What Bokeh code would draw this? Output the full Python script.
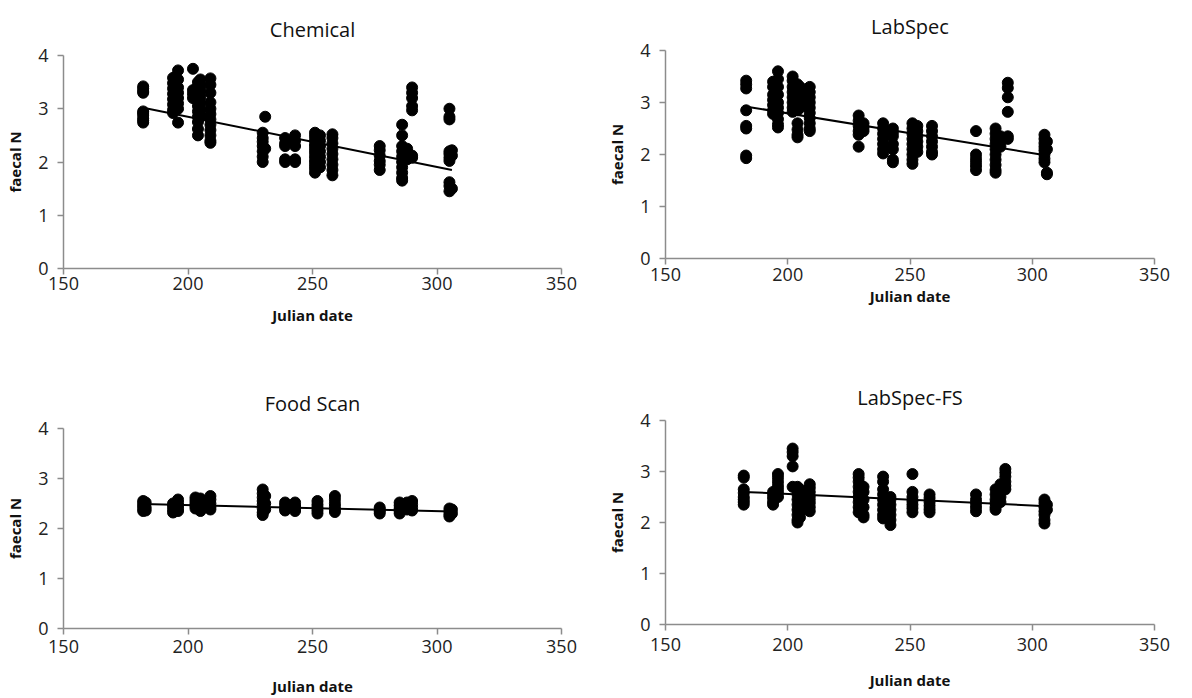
from bokeh.plotting import figure
from bokeh.layouts import column, row
from bokeh.models import Range1d, FixedTicker, ColumnDataSource
from bokeh.embed import file_html
from bokeh.resources import INLINE

# ---------------- data ----------------
x_ticks = [150, 200, 250, 300, 350]
y_ticks = [0, 1, 2, 3, 4]
x_label = "Julian date"
y_label = "faecal N"
titles = ["Chemical", "LabSpec", "Food Scan", "LabSpec-FS"]

trend_days = [182, 306]

chem_days = [182, 194, 196, 202, 204, 205, 209, 230, 231, 239, 243, 251, 253, 258, 277, 286, 288, 290, 305, 306]
chem_vals = [
    [3.42, 3.38, 3.33, 3.30, 2.95, 2.92, 2.88, 2.82, 2.78, 2.74],
    [3.58, 3.48, 3.38, 3.28, 3.18, 3.08, 2.98, 2.92],
    [3.72, 3.55, 3.40, 3.30, 3.20, 3.10, 3.00, 2.74],
    [3.75, 3.35, 3.28, 3.20],
    [3.50, 3.42, 3.30, 3.18, 3.05, 2.95, 2.85, 2.75, 2.62, 2.50],
    [3.55, 3.45, 3.35, 3.22, 3.10, 2.98, 2.85],
    [3.57, 3.45, 3.30, 3.12, 3.00, 2.90, 2.80, 2.70, 2.60, 2.50, 2.40, 2.36],
    [2.55, 2.45, 2.38, 2.30, 2.20, 2.10, 2.00],
    [2.85, 2.25],
    [2.45, 2.35, 2.30, 2.05, 2.00],
    [2.50, 2.40, 2.30, 2.05, 2.00],
    [2.55, 2.48, 2.40, 2.32, 2.25, 2.18, 2.10, 2.02, 1.95, 1.88, 1.80],
    [2.50, 2.40, 2.30, 2.20, 2.10, 2.00, 1.90],
    [2.52, 2.45, 2.35, 2.25, 2.15, 2.05, 1.95, 1.85, 1.75],
    [2.30, 2.22, 2.12, 2.02, 1.95, 1.85],
    [2.70, 2.50, 2.30, 2.20, 2.10, 2.00, 1.90, 1.80, 1.70, 1.65],
    [2.25, 2.15, 2.05],
    [3.40, 3.30, 3.20, 3.05, 2.97, 2.12, 2.08],
    [3.00, 2.85, 2.80, 2.20, 2.15, 2.08, 2.02, 1.62, 1.55, 1.45],
    [2.22, 2.12, 1.50],
]
chem_trend = [3.02, 1.85]

labspec_days = [183, 194, 196, 202, 204, 205, 209, 229, 231, 239, 243, 251, 253, 259, 277, 285, 287, 290, 305, 306]
labspec_vals = [
    [3.42, 3.35, 3.27, 2.85, 2.55, 2.50, 1.98, 1.93],
    [3.40, 3.30, 3.15, 3.05, 2.95, 2.85, 2.78],
    [3.60, 3.45, 3.30, 3.15, 3.00, 2.90, 2.80, 2.68, 2.58, 2.52],
    [3.50, 3.42, 3.30, 3.20, 3.10, 3.00, 2.90, 2.82],
    [3.35, 3.25, 3.15, 3.05, 2.95, 2.85, 2.60, 2.48, 2.38, 2.33],
    [3.30, 3.20, 3.10, 3.00, 2.90],
    [3.30, 3.20, 3.10, 3.00, 2.90, 2.80, 2.70, 2.60, 2.50, 2.45],
    [2.75, 2.65, 2.55, 2.45, 2.38, 2.15],
    [2.60, 2.52, 2.45],
    [2.60, 2.50, 2.40, 2.30, 2.20, 2.10, 2.02],
    [2.50, 2.42, 2.35, 2.20, 2.10, 1.90, 1.85],
    [2.60, 2.50, 2.40, 2.30, 2.20, 2.10, 2.00, 1.90, 1.82],
    [2.55, 2.45, 2.35, 2.25, 2.15, 2.05],
    [2.55, 2.45, 2.35, 2.25, 2.15, 2.05, 2.00],
    [2.45, 2.00, 1.92, 1.85, 1.78, 1.70],
    [2.50, 2.40, 2.30, 2.20, 2.10, 2.00, 1.90, 1.80, 1.70, 1.65],
    [2.35, 2.25, 2.15],
    [3.38, 3.28, 3.10, 2.82, 2.35, 2.30],
    [2.38, 2.30, 2.22, 2.15, 2.08, 2.00, 1.92, 1.85],
    [2.25, 2.10, 1.65, 1.62],
]
labspec_trend = [2.93, 1.98]

food_days = [182, 183, 194, 196, 203, 205, 209, 230, 231, 239, 243, 252, 259, 277, 285, 288, 290, 305, 306]
food_vals = [
    [2.55, 2.50, 2.45, 2.40, 2.35],
    [2.52, 2.42, 2.36],
    [2.50, 2.45, 2.38, 2.32],
    [2.58, 2.52, 2.46, 2.40, 2.35],
    [2.62, 2.56, 2.50, 2.45, 2.40],
    [2.60, 2.52, 2.45, 2.38, 2.35],
    [2.65, 2.58, 2.50, 2.43, 2.38],
    [2.78, 2.70, 2.62, 2.55, 2.48, 2.40, 2.32, 2.27],
    [2.65, 2.50, 2.38],
    [2.52, 2.46, 2.40, 2.36],
    [2.52, 2.45, 2.40, 2.35],
    [2.55, 2.48, 2.42, 2.36, 2.30],
    [2.65, 2.58, 2.50, 2.44, 2.38, 2.33],
    [2.42, 2.38, 2.34, 2.30],
    [2.52, 2.46, 2.40, 2.35, 2.30],
    [2.52, 2.45, 2.38],
    [2.55, 2.48, 2.42, 2.36],
    [2.40, 2.34, 2.28, 2.24],
    [2.38, 2.30],
]
food_trend = [2.49, 2.34]

lsfs_days = [182, 194, 196, 202, 204, 205, 209, 229, 231, 239, 242, 251, 258, 277, 285, 287, 289, 305, 306]
lsfs_vals = [
    [2.92, 2.88, 2.65, 2.58, 2.50, 2.45, 2.40, 2.35],
    [2.60, 2.55, 2.48, 2.40, 2.35],
    [2.95, 2.88, 2.80, 2.72, 2.65, 2.58, 2.50],
    [3.45, 3.38, 3.30, 3.10, 2.70],
    [2.70, 2.62, 2.55, 2.45, 2.35, 2.25, 2.15, 2.05, 2.00],
    [2.65, 2.55, 2.40, 2.30, 2.20, 2.10],
    [2.75, 2.68, 2.60, 2.52, 2.45, 2.38, 2.30, 2.22],
    [2.95, 2.88, 2.80, 2.70, 2.60, 2.50, 2.40, 2.30, 2.20],
    [2.70, 2.60, 2.45, 2.30, 2.15, 2.10],
    [2.90, 2.80, 2.65, 2.55, 2.45, 2.35, 2.25, 2.15, 2.08],
    [2.50, 2.45, 2.35, 2.25, 2.15, 2.05, 1.95],
    [2.95, 2.60, 2.50, 2.42, 2.35, 2.28, 2.20],
    [2.55, 2.48, 2.40, 2.33, 2.26, 2.20],
    [2.55, 2.45, 2.38, 2.30, 2.22],
    [2.65, 2.55, 2.45, 2.38, 2.30, 2.25],
    [2.75, 2.60, 2.50, 2.40],
    [3.05, 2.98, 2.90, 2.80, 2.72, 2.65],
    [2.45, 2.38, 2.30, 2.22, 2.15, 2.05, 1.98],
    [2.35, 2.25],
]
lsfs_trend = [2.60, 2.32]

# ---------------- drawing ----------------
FONT = "Open Sans"
AXIS_GREY = "#8c8c8c"


def flatten(days, vals):
    xs, ys = [], []
    for d, vs in zip(days, vals):
        for v in vs:
            xs.append(d)
            ys.append(v)
    return xs, ys


def panel(title, days, vals, trend, borders, title_standoff, x_std):
    left, right, top, bottom = borders
    p = figure(width=596, height=349, output_backend="svg", toolbar_location=None,
               x_range=Range1d(x_ticks[0], x_ticks[-1]), y_range=Range1d(y_ticks[0], y_ticks[-1]),
               min_border_left=left, min_border_right=right,
               min_border_top=top, min_border_bottom=bottom)
    p.outline_line_color = None
    p.xgrid.visible = False
    p.ygrid.visible = False
    p.background_fill_color = "white"
    p.border_fill_color = "white"

    p.title.text = title
    p.title.align = "center"
    p.title.text_font = FONT
    p.title.text_font_size = "20px"
    p.title.text_font_style = "normal"
    p.title.text_color = "#111111"
    p.title.standoff = title_standoff

    xs, ys = flatten(days, vals)
    src = ColumnDataSource(dict(x=xs, y=ys))
    p.scatter("x", "y", source=src, size=11, fill_color="black", line_color="black")
    p.line(trend_days, trend, line_color="black", line_width=2)

    for ax in (p.xaxis[0], p.yaxis[0]):
        ax.axis_line_color = AXIS_GREY
        ax.axis_line_width = 1.5
        ax.major_tick_line_color = AXIS_GREY
        ax.major_tick_line_width = 1.5
        ax.major_tick_in = 0
        ax.major_tick_out = 6
        ax.minor_tick_line_color = None
        ax.major_label_text_font = FONT
        ax.major_label_text_font_size = "18px"
        ax.major_label_text_color = "#222222"
        ax.axis_label_text_font = FONT
        ax.axis_label_text_font_size = "15px"
        ax.axis_label_text_font_style = "bold"
        ax.axis_label_text_color = "#111111"
    p.xaxis.ticker = FixedTicker(ticks=x_ticks)
    p.yaxis.ticker = FixedTicker(ticks=y_ticks)
    p.xaxis.axis_label = x_label
    p.yaxis.axis_label = y_label
    p.xaxis.major_label_standoff = x_std[0]
    p.xaxis.axis_label_standoff = x_std[1]
    p.yaxis.major_label_standoff = 9
    p.yaxis.axis_label_standoff = 10
    return p


p1 = panel(titles[0], chem_days, chem_vals, chem_trend, (63, 35, 55, 81), 26, (2, 12))
p2 = panel(titles[1], labspec_days, labspec_vals, labspec_trend, (66, 38, 50, 91), 21, (3, 2))
p3 = panel(titles[2], food_days, food_vals, food_trend, (63, 35, 79, 70), 24, (5, 20))
p4 = panel(titles[3], lsfs_days, lsfs_vals, lsfs_trend, (69, 32, 71, 74), 19, (7, 16))

layout = row(column(p1, p3, spacing=0), column(p2, p4, spacing=0), spacing=0)

open("out.html", "w").write(file_html(layout, INLINE))
